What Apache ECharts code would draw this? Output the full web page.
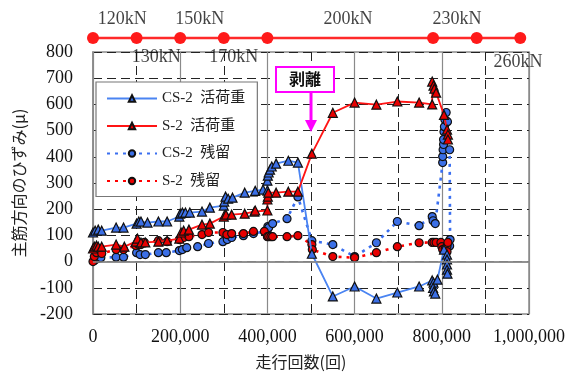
<!DOCTYPE html>
<html>
<head>
<meta charset="utf-8">
<script src="https://cdn.jsdelivr.net/npm/echarts@6/dist/echarts.min.js"></script>
<style>
  html, body { margin: 0; padding: 0; background: #fff; }
  #chart { width: 572px; height: 376px; }
</style>
</head>
<body>
<div id="chart"></div>
<script>
// load steps along the top
const loadX = [0, 100000, 200000, 300000, 400000, 780000, 880000, 980000];
const loadNames = ['120kN', '130kN', '150kN', '170kN', '200kN', '230kN', '260kN'];
const loadNameX = [67000, 145000, 245000, 323000, 585000, 835000, 975000];
const loadNameRow = ['top', 'bottom', 'top', 'bottom', 'top', 'top', 'bottom2'];

// CS-2 活荷重 [cycles, strain]
const csLive = [
  [0, 111], [5000, 118], [12000, 122], [20000, 118], [53000, 130], [70000, 130],
  [100000, 145], [105000, 153], [110000, 153], [125000, 149], [150000, 153], [170000, 153],
  [198000, 172], [200000, 183], [205000, 187], [212000, 187], [222000, 187], [250000, 191], [268000, 206],
  [300000, 214], [301000, 229], [304000, 248], [310000, 240], [320000, 244], [348000, 263], [372000, 270], [390000, 275], [400000, 271],
  [400000, 309], [401000, 328], [403000, 340], [406000, 351], [410000, 363], [420000, 374], [448000, 385], [470000, 378],
  [502000, 30], [550000, -133], [600000, -95], [650000, -141], [698000, -118], [748000, -95],
  [778000, -72], [781000, -80], [780000, -100], [782000, -114], [785000, -122], [790000, -69],
  [805000, 46], [812000, 27], [812000, 8], [812000, -11], [812000, -31], [813000, -46]
];

// S-2 活荷重
const sLive = [
  [0, 50], [3000, 57], [8000, 61], [12000, 57], [20000, 57], [53000, 65], [72000, 57],
  [98000, 76], [102000, 88], [110000, 73], [120000, 73], [150000, 76], [170000, 80],
  [198000, 88], [202000, 111], [208000, 118], [220000, 122], [250000, 141], [268000, 145],
  [300000, 172], [305000, 179], [318000, 179], [348000, 183], [370000, 191], [372000, 195], [400000, 195],
  [400000, 237], [401000, 248], [402000, 263], [420000, 263], [448000, 267], [470000, 267],
  [502000, 412], [550000, 568], [600000, 607], [650000, 599], [698000, 611], [748000, 607],
  [778000, 600], [778000, 687], [781000, 672], [783000, 660], [787000, 645],
  [805000, 560], [812000, 504], [814000, 485], [814000, 466]
];

// CS-2 残留
const csRes = [
  [3000, 4], [10000, 11], [18000, 15], [53000, 17], [70000, 17],
  [100000, 34], [108000, 27], [120000, 27], [150000, 34], [168000, 34],
  [198000, 42], [205000, 46], [215000, 53], [240000, 57], [265000, 69],
  [298000, 76], [308000, 84], [318000, 92], [345000, 99], [368000, 107], [395000, 115],
  [400000, 122], [401000, 134], [403000, 130], [412000, 145], [445000, 164], [470000, 247],
  [502000, 80], [550000, 65], [600000, 19], [650000, 72], [698000, 153], [748000, 137],
  [778000, 172], [780000, 156], [785000, 145],
  [802000, 378], [802000, 401], [803000, 427], [804000, 447], [804000, 466], [805000, 496],
  [806000, 515], [807000, 542], [810000, 569], [813000, 534], [818000, 427], [819000, 84], [818000, 60]
];

// S-2 残留
const sRes = [
  [0, 0], [3000, 19], [8000, 34], [15000, 46], [20000, 31], [53000, 46], [70000, 46],
  [98000, 61], [105000, 65], [110000, 65], [118000, 73], [150000, 80], [170000, 76],
  [198000, 84], [203000, 95], [208000, 92], [220000, 95], [250000, 103], [265000, 111],
  [298000, 111], [307000, 103], [318000, 107], [345000, 107], [368000, 115], [393000, 115],
  [400000, 95], [403000, 95], [408000, 95], [412000, 95], [445000, 95], [470000, 99],
  [502000, 65], [503000, 46], [550000, 19], [600000, 15], [650000, 34], [698000, 57], [748000, 72],
  [778000, 73], [782000, 73], [787000, 73], [798000, 73], [800000, 57], [802000, 46],
  [808000, 50], [812000, 60], [814000, 73], [812000, 38]
];

const peelX = 500000;
const peelY = 495;

const serif = '"Liberation Serif", "Times New Roman", serif';
const jp = '"Noto Sans CJK JP", sans-serif';
const mixed = '"Liberation Serif", "Noto Sans CJK JP", serif';

const blueLine = '#4a84f2';
const blueFill = '#3b6fe6';
const redLine = '#ff1414';
const redFill = '#e80000';
const edge = '#101010';

const chart = echarts.init(document.getElementById('chart'));

const option = {
  animation: false,
  grid: [
    { left: 93, right: 43, top: 52, bottom: 62, show: true, borderColor: '#8a8a8a', borderWidth: 1.5, backgroundColor: 'transparent' },
    { left: 93, right: 43, top: 28, height: 20 }
  ],
  xAxis: [
    {
      type: 'value', min: 0, max: 1000000, interval: 200000,
      axisLine: { show: true, lineStyle: { color: '#8a8a8a', width: 1.5 } },
      axisTick: { show: false },
      axisLabel: { color: '#111', fontFamily: serif, fontSize: 18, margin: 14,
        formatter: v => v.toLocaleString('en-US') },
      splitLine: { show: true, lineStyle: { color: '#8a8a8a', width: 1.2 } },
      minorTick: { show: false, splitNumber: 2 },
      minorSplitLine: { show: true, lineStyle: { color: '#222', width: 1, type: [9, 5] } },
      name: '走行回数(回)', nameLocation: 'middle', nameGap: 40,
      nameTextStyle: { color: '#222', fontFamily: jp, fontSize: 16, padding: [0, 20, 0, 0] }
    },
    { gridIndex: 1, type: 'value', min: 0, max: 1000000, show: false }
  ],
  yAxis: [
    {
      type: 'value', min: -200, max: 800, interval: 100,
      axisLine: { show: true, lineStyle: { color: '#8a8a8a', width: 1.5 } },
      axisTick: { show: false },
      axisLabel: { color: '#111', fontFamily: serif, fontSize: 18, margin: 20 },
      splitLine: { show: true, lineStyle: { color: '#222', width: 1, type: [9, 5] } },
      name: '主筋方向のひずみ(μ)', nameLocation: 'middle', nameGap: 66, nameRotate: 90,
      nameTextStyle: { color: '#222', fontFamily: jp, fontSize: 16 }
    },
    { gridIndex: 1, type: 'value', min: -1, max: 1, show: false }
  ],
  legend: {
    left: 96, top: 82, orient: 'vertical',
    width: 152,
    padding: [9, 12, 8, 10],
    itemWidth: 50, itemHeight: 8, itemGap: 12.5,
    backgroundColor: '#fff', borderColor: '#777', borderWidth: 1.2,
    textStyle: { fontFamily: mixed, fontSize: 15, color: '#222' },
    data: ['CS-2  活荷重', 'S-2  活荷重', 'CS-2  残留', 'S-2  残留']
  },
  series: [
    {
      name: 'load', type: 'line', xAxisIndex: 1, yAxisIndex: 1,
      data: loadX.map(x => [x, 0]),
      symbol: 'circle', symbolSize: 12, clip: false, silent: true,
      lineStyle: { color: '#ff2a2a', width: 2.5 },
      itemStyle: { color: '#ff1a1a' }
    },
    {
      name: 'loadNames', type: 'scatter', xAxisIndex: 1, yAxisIndex: 1,
      symbol: 'circle', symbolSize: 2, clip: false, silent: true,
      itemStyle: { color: 'rgba(0,0,0,0)' },
      data: loadNames.map((n, i) => ({
        value: [loadNameX[i], 0], name: n,
        label: {
          position: loadNameRow[i] === 'top' ? 'top' : 'bottom',
          distance: loadNameRow[i] === 'top' ? 9 : (loadNameRow[i] === 'bottom' ? 9 : 14)
        }
      })),
      label: { show: true, formatter: p => p.name, color: '#111', fontFamily: serif, fontSize: 18 }
    },
    {
      name: 'CS-2  活荷重', type: 'line', data: csLive, z: 4,
      symbol: 'triangle', symbolSize: 9,
      lineStyle: { color: blueLine, width: 1.8 },
      itemStyle: { color: blueFill, borderColor: edge, borderWidth: 1.2 },
      markLine: {
        silent: true, symbol: 'none', label: { show: false },
        lineStyle: { color: '#8a8a8a', width: 1.5, type: 'solid' },
        data: [{ yAxis: 0 }]
      }
    },
    {
      name: 'S-2  活荷重', type: 'line', data: sLive, z: 4,
      symbol: 'triangle', symbolSize: 9,
      lineStyle: { color: redLine, width: 1.8 },
      itemStyle: { color: redFill, borderColor: edge, borderWidth: 1.2 }
    },
    {
      name: 'CS-2  残留', type: 'line', data: csRes, z: 3,
      symbol: 'circle', symbolSize: 8,
      lineStyle: { color: '#3a6ff0', width: 2.6, type: [3, 5] },
      itemStyle: { color: blueFill, borderColor: edge, borderWidth: 1.2 }
    },
    {
      name: 'S-2  残留', type: 'line', data: sRes, z: 3,
      symbol: 'circle', symbolSize: 8,
      lineStyle: { color: '#ff0000', width: 2.6, type: [3, 5] },
      itemStyle: { color: redFill, borderColor: edge, borderWidth: 1.2 }
    }
  ]
};

chart.setOption(option);

// 剥離 annotation, anchored to data coordinates
const tip = chart.convertToPixel({ xAxisIndex: 0, yAxisIndex: 0 }, [peelX, peelY]);
chart.setOption({
  graphic: [
    {
      type: 'rect', shape: { x: tip[0] - 35, y: tip[1] - 65, width: 58, height: 25 },
      style: { fill: '#fff', stroke: '#ff00ff', lineWidth: 2 }, z: 10
    },
    {
      type: 'text', x: tip[0] - 6, y: tip[1] - 52.5, z: 11,
      style: { text: '剥離', fill: '#111', font: 'bold 16px "Noto Sans CJK JP"', align: 'center', verticalAlign: 'middle' }
    },
    {
      type: 'line', shape: { x1: tip[0], y1: tip[1] - 40, x2: tip[0], y2: tip[1] - 10 },
      style: { stroke: '#ff00ff', lineWidth: 3 }, z: 10
    },
    {
      type: 'polygon', shape: { points: [[tip[0] - 6, tip[1] - 12], [tip[0] + 6, tip[1] - 12], [tip[0], tip[1]]] },
      style: { fill: '#ff00ff' }, z: 10
    }
  ]
});
</script>
</body>
</html>
